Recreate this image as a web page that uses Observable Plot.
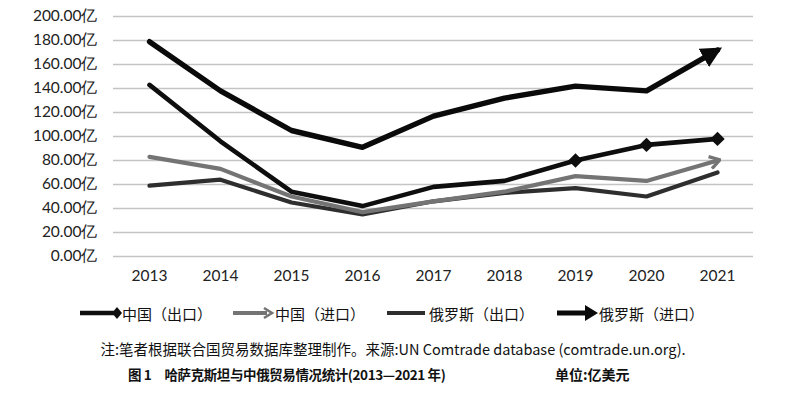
<!DOCTYPE html>
<html><head><meta charset="utf-8">
<script src="https://cdn.jsdelivr.net/npm/d3@7"></script>
<script src="https://cdn.jsdelivr.net/npm/@observablehq/plot@0.6"></script>
<style>
body{margin:0;background:#fff;}
#wrap{position:relative;width:800px;height:397px;overflow:hidden;font-family:"Noto Sans CJK SC",sans-serif;color:#111;}
#chart{position:absolute;left:0;top:0;}
.leg{position:absolute;top:302px;height:22px;display:flex;align-items:center;font-size:15px;white-space:nowrap;}
.leg svg{display:block;}
#note{position:absolute;top:338px;left:0;width:786px;text-align:center;font-size:14.5px;white-space:nowrap;}
#cap1{position:absolute;top:364px;left:128px;font-size:13.5px;font-weight:600;white-space:nowrap;letter-spacing:-0.4px;}
#cap2{position:absolute;top:364px;left:555px;font-size:14px;font-weight:600;white-space:nowrap;}
</style></head><body>
<div id="wrap"><div id="chart"></div><div id="legend"></div>
<div id="note"></div><div id="cap1"></div><div id="cap2"></div></div>
<script>
const years = [2013, 2014, 2015, 2016, 2017, 2018, 2019, 2020, 2021];
const chinaExport = [143, 96, 54, 42, 58, 63, 80, 93, 98];
const chinaImport = [83, 73, 50, 37, 46, 54, 67, 63, 80];
const russiaExport = [59, 64, 45, 35, 46, 53, 57, 50, 70];
const russiaImport = [179, 138, 105, 91, 117, 132, 142, 138, 172];
const seriesNames = ["中国（出口）", "中国（进口）", "俄罗斯（出口）", "俄罗斯（进口）"];
const diamondYears = [2019, 2020, 2021];
const yTicks = [0, 20, 40, 60, 80, 100, 120, 140, 160, 180, 200];
const noteText = "注:笔者根据联合国贸易数据库整理制作。来源:UN Comtrade database (comtrade.un.org).";
const captionText = "图 1　哈萨克斯坦与中俄贸易情况统计(2013—2021 年)";
const unitText = "单位:亿美元";

const rows = (vals, name) => years.map((y, i) => ({year: String(y), value: vals[i], series: name}));
const dCE = rows(chinaExport, seriesNames[0]);
const dCI = rows(chinaImport, seriesNames[1]);
const dRE = rows(russiaExport, seriesNames[2]);
const dRI = rows(russiaImport, seriesNames[3]);
const dDia = dCE.filter(d => diamondYears.includes(+d.year));

const plot = Plot.plot({
  width: 800, height: 290,
  marginLeft: 113, marginRight: 47, marginTop: 16, marginBottom: 34,
  style: {fontFamily: "Lato, sans-serif", fontSize: "15.5px", color: "#222", background: "#fff"},
  x: {type: "point", domain: years.map(String), padding: 0.5, label: null, tickSize: 0, tickPadding: 13},
  y: {domain: [0, 200], ticks: yTicks, label: null, tickSize: 0, tickPadding: 16, tickFormat: d => d.toFixed(2) + "亿"},
  marks: [
    Plot.gridY(yTicks, {stroke: "#c4c4c4", strokeOpacity: 1, strokeWidth: 1.6}),
    Plot.line(dRE, {x: "year", y: "value", stroke: "#2e2e2e", strokeWidth: 4.2, strokeLinejoin: "round"}),
    Plot.line(dCI, {x: "year", y: "value", stroke: "#747474", strokeWidth: 4.2, markerEnd: "arrow"}),
    Plot.line(dCE, {x: "year", y: "value", stroke: "#0e0e0e", strokeWidth: 4.6}),
    Plot.dot(dDia, {x: "year", y: "value", symbol: "diamond2", r: 6.5, fill: "#0e0e0e", stroke: "none"}),
    Plot.line(dRI, {x: "year", y: "value", stroke: "#0a0a0a", strokeWidth: 5.4, markerEnd: "arrow"})
  ]
});
document.getElementById("chart").appendChild(plot);

// custom arrowheads
const ns = "http://www.w3.org/2000/svg";
const defs = document.createElementNS(ns, "defs");
function mk(id, color, size, filled) {
  const m = document.createElementNS(ns, "marker");
  m.setAttribute("id", id);
  m.setAttribute("viewBox", "-12 -6 12 12");
  m.setAttribute("markerWidth", size);
  m.setAttribute("markerHeight", size);
  m.setAttribute("markerUnits", "userSpaceOnUse");
  m.setAttribute("refX", "-3");
  m.setAttribute("refY", "0");
  m.setAttribute("orient", "auto");
  const p = document.createElementNS(ns, "path");
  if (filled) {
    p.setAttribute("d", "M-12,-6L0,0L-12,6Z");
    p.setAttribute("fill", color);
  } else {
    p.setAttribute("d", "M-9,-5L-1,0L-9,5");
    p.setAttribute("fill", "none");
    p.setAttribute("stroke", color);
    p.setAttribute("stroke-width", "2.6");
  }
  m.appendChild(p);
  defs.appendChild(m);
}
mk("arrGray", "#747474", 15, false);
mk("arrBlack", "#0a0a0a", 21, true);
plot.insertBefore(defs, plot.firstChild);
const withMarkers = plot.querySelectorAll("[marker-end]");
if (withMarkers[0]) withMarkers[0].setAttribute("marker-end", "url(#arrGray)");
if (withMarkers[1]) withMarkers[1].setAttribute("marker-end", "url(#arrBlack)");

// legend
const legendItems = [
  {name: seriesNames[0], left: 80, color: "#0e0e0e", w: 4.6, end: "diamond"},
  {name: seriesNames[1], left: 233, color: "#747474", w: 4, end: "chev"},
  {name: seriesNames[2], left: 387, color: "#2e2e2e", w: 4.2, end: "none"},
  {name: seriesNames[3], left: 557, color: "#0a0a0a", w: 5, end: "tri"}
];
const leg = document.getElementById("legend");
for (const it of legendItems) {
  const div = document.createElement("div");
  div.className = "leg";
  div.style.left = it.left + "px";
  const svg = d3.create("svg").attr("width", 42).attr("height", 20);
  svg.append("line").attr("x1", 0).attr("x2", it.end === "none" ? 38 : 34).attr("y1", 10).attr("y2", 10)
    .attr("stroke", it.color).attr("stroke-width", it.w);
  if (it.end === "diamond") svg.append("path").attr("d", "M37,4L42,10L37,16L32,10Z").attr("fill", it.color);
  if (it.end === "chev") svg.append("path").attr("d", "M31,5L39,10L31,15").attr("fill", "none").attr("stroke", it.color).attr("stroke-width", 2.6);
  if (it.end === "tri") svg.append("path").attr("d", "M28,2L41,10L28,18Z").attr("fill", it.color);
  div.appendChild(svg.node());
  const span = document.createElement("span");
  span.textContent = it.name;
  div.appendChild(span);
  leg.appendChild(div);
}
document.getElementById("note").textContent = noteText;
document.getElementById("cap1").textContent = captionText;
document.getElementById("cap2").textContent = unitText;
</script>
</body></html>
